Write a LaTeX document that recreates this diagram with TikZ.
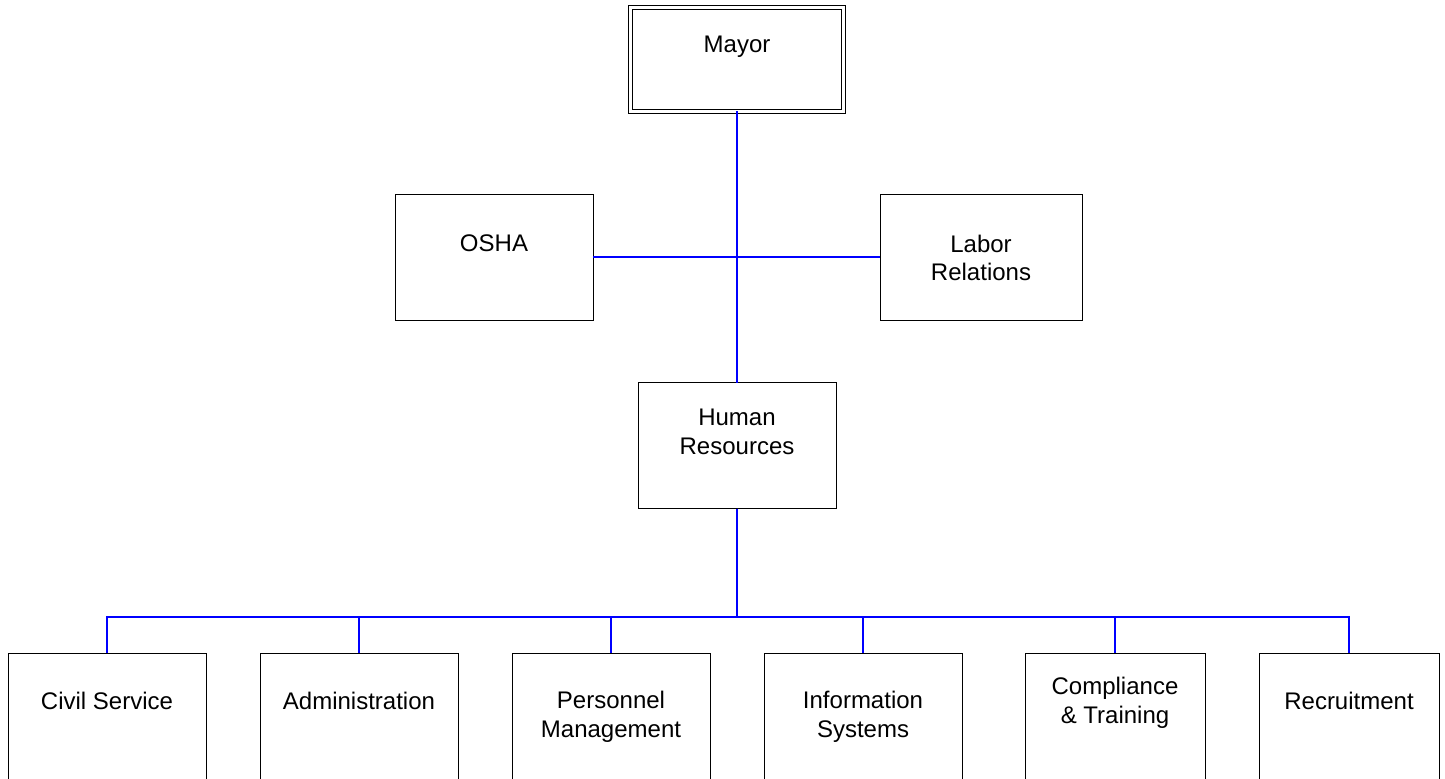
\documentclass[tikz,border=0pt]{standalone}
\usepackage{fontspec}
\setmainfont{Liberation Sans}
\usetikzlibrary{positioning}
\definecolor{wireblue}{RGB}{0,0,255}

\begin{document}
\begin{tikzpicture}[x=0.5pt,y=-0.5pt,font=\fontsize{12}{14.3}\selectfont,
box/.style={draw,line width=0.5pt,inner sep=0pt,outer sep=0pt,minimum width=99pt,minimum height=63pt},
small/.style={box,minimum width=90pt},
head/.style={box,double,double distance=1.5pt,minimum width=106.25pt,minimum height=52pt},
txt/.style={align=center,inner sep=0pt},
wire/.style={draw=wireblue,line width=0.6pt}]
\clip (0,0) rectangle (1445,778);
\fill[white] (0,0) rectangle (1445,778);
% boxes
\node[head] (mayor) at (737,59) {};
\node[box] (osha) at (494,257) {};
\node[box,minimum width=101pt] (labor) at (981,257) {};
\node[box] (hr) at (737,445.5) {};
\node[box] (cs) at (107,716) {};
\node[box] (adm) at (359,716) {};
\node[box] (pm) at (611,716) {};
\node[box] (is) at (863,716) {};
\node[small] (ct) at (1115,716) {};
\node[small] (rec) at (1349,716) {};
% texts
\node[txt] (mayor-t) at (737,47) {Mayor};
\node[txt] (osha-t) at (494,243) {OSHA};
\node[txt] (labor-t) at (981,258) {Labor\\Relations};
\node[txt] (hr-t) at (737,432) {Human\\Resources};
\node[txt] (cs-t) at (107,701) {Civil Service};
\node[txt] (adm-t) at (359,701) {Administration};
\node[txt] (pm-t) at (611,717) {Personnel\\Management};
\node[txt] (is-t) at (863,717) {Information\\Systems};
\node[txt] (ct-t) at (1115,703) {Compliance\\\& Training};
\node[txt] (rec-t) at (1349,701) {Recruitment};
% lines
\coordinate (bus) at (737,617);
\path[wire] (mayor.south) -- (hr.north);
\path[wire] (osha.east) -- (labor.west);
\foreach \n in {cs,adm,pm,is,ct,rec}
  \path[wire] (hr.south) -- (bus) -| (\n.north);
\end{tikzpicture}
\end{document}
